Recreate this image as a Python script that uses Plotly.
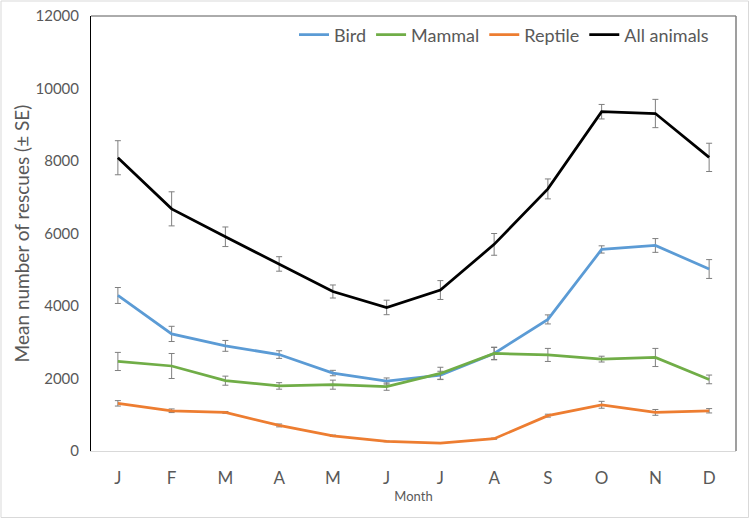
import plotly.graph_objects as go

months = ["J", "F", "M", "A", "M", "J", "J", "A", "S", "O", "N", "D"]
month_ids = list(range(12))

bird = [4290, 3230, 2900, 2660, 2150, 1930, 2090, 2690, 3630, 5560, 5670, 5020]
bird_se = [220, 210, 150, 105, 75, 85, 110, 165, 125, 100, 190, 260]

mammal = [2470, 2345, 1940, 1795, 1830, 1775, 2140, 2690, 2650, 2535, 2580, 1975]
mammal_se = [250, 345, 125, 90, 125, 100, 170, 175, 180, 80, 250, 120]

reptile = [1315, 1110, 1065, 705, 420, 265, 220, 340, 975, 1275, 1065, 1110]
reptile_se = [75, 50, 25, 40, 20, 10, 10, 15, 40, 95, 80, 60]

all_animals = [8090, 6680, 5910, 5160, 4400, 3960, 4440, 5700, 7230, 9360, 9310, 8100]
all_se = [470, 470, 270, 200, 180, 200, 260, 300, 275, 200, 390, 390]

series = [
    ("Bird", bird, bird_se, "#5B9BD5"),
    ("Mammal", mammal, mammal_se, "#70AD47"),
    ("Reptile", reptile, reptile_se, "#ED7D31"),
    ("All animals", all_animals, all_se, "#000000"),
]

FONT = "Lato, 'Open Sans', sans-serif"
GRAY = "#595959"

fig = go.Figure()
for name, vals, se, color in series:
    fig.add_trace(go.Scatter(
        x=month_ids, y=vals, name=name, mode="lines",
        line=dict(color=color, width=2.75),
        error_y=dict(type="data", array=se, visible=True,
                     color="#7f7f7f", thickness=1, width=3),
    ))

L, R, T, B = 91, 14, 16, 68
W, H = 750, 519
pw, ph = W - L - R, H - T - B

fig.update_layout(
    width=W, height=H,
    margin=dict(l=L, r=R, t=T, b=B, autoexpand=False),
    paper_bgcolor="white", plot_bgcolor="white",
    font=dict(family=FONT, color=GRAY),
    showlegend=True,
    legend=dict(orientation="h", x=(714 - L) / pw, xanchor="right",
                y=(H - B - 35) / ph, yanchor="middle",
                font=dict(size=18, color=GRAY, family=FONT),
                bgcolor="rgba(0,0,0,0)", itemwidth=30, tracegroupgap=0),
    xaxis=dict(
        range=[-0.5, 11.5], tickmode="array", tickvals=month_ids, ticktext=months,
        showgrid=False, zeroline=False, showline=True, linecolor="#d9d9d9", linewidth=1,
        ticks="", tickfont=dict(size=17, color=GRAY, family=FONT),
        ticklabelstandoff=12, automargin=False,
        title=dict(text="Month", font=dict(size=13, color=GRAY, family=FONT), standoff=4),
    ),
    yaxis=dict(
        range=[0, 12000], dtick=2000, tickformat="d", showgrid=False, zeroline=False,
        showline=True, linecolor="#000000", linewidth=1, ticks="",
        tickfont=dict(size=15, color=GRAY, family=FONT), ticklabelstandoff=8,
        automargin=False,
        title=dict(text="Mean number of rescues (± SE)",
                   font=dict(size=19, color=GRAY, family=FONT), standoff=0),
    ),
)

# plot-area box: top and right edges
fig.add_shape(type="line", xref="paper", yref="paper", x0=0, x1=1, y0=1, y1=1,
              layer="above", line=dict(color="#595959", width=1))
fig.add_shape(type="line", xref="paper", yref="paper", x0=1, x1=1, y0=0, y1=1,
              layer="above", line=dict(color="#7f7f7f", width=1.5))
# outer chart border
fig.add_shape(type="rect", xref="paper", yref="paper",
              x0=(1 - L) / pw, x1=(748.5 - L) / pw,
              y0=(H - B - 517.5) / ph, y1=(H - B - 1) / ph,
              layer="above", line=dict(color="#d9d9d9", width=1))

fig.write_html(
    "out.html",
    config={"displayModeBar": False},
    post_script="document.body.style.margin='0';document.body.style.padding='0';"
                "document.documentElement.style.overflow='hidden';",
)
